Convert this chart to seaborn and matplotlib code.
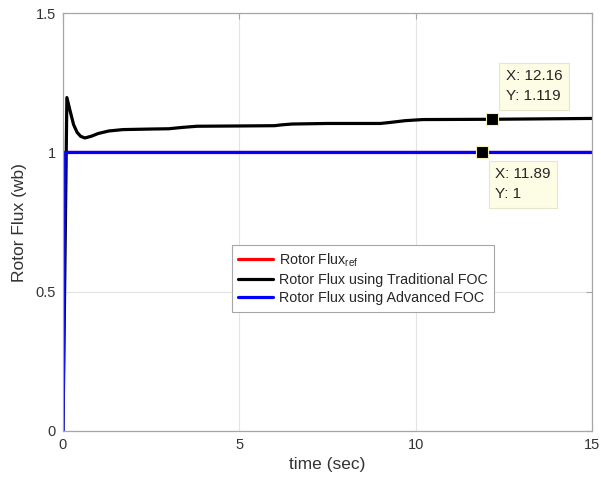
import matplotlib
matplotlib.use("Agg")
import matplotlib.pyplot as plt
import seaborn as sns
import pandas as pd

# Simulation traces (time in seconds, rotor flux in Wb)
t_ref = [0.0, 15.0]
flux_ref = [1.0, 1.0]

t_trad = [0.0, 0.11, 0.2, 0.3, 0.4, 0.5, 0.62, 0.8, 1.0, 1.3, 1.7, 2.5, 3.0,
          3.4, 3.8, 5.0, 6.0, 6.2, 6.5, 7.5, 9.0, 9.3, 9.7, 10.2, 12.16, 15.0]
flux_trad = [0.0, 1.197, 1.15, 1.10, 1.072, 1.058, 1.052, 1.058, 1.068, 1.077,
             1.082, 1.084, 1.085, 1.090, 1.094, 1.095, 1.096, 1.099, 1.102,
             1.104, 1.104, 1.108, 1.114, 1.118, 1.119, 1.122]

t_adv = [0.0, 0.06, 15.0]
flux_adv = [0.0, 1.0, 1.0]

# Data tips
tip_x = [12.16, 11.89]
tip_y = [1.119, 1.0]

x_ticks = [0, 5, 10, 15]
y_ticks = [0, 0.5, 1, 1.5]

sns.set_style("white")
plt.rcParams["font.family"] = ["Liberation Sans", "DejaVu Sans"]
plt.rcParams["mathtext.fontset"] = "custom"
plt.rcParams["mathtext.rm"] = "Liberation Sans"

fig = plt.figure(figsize=(6.01, 4.87), dpi=100)
ax = fig.add_axes([0.1048, 0.115, 0.8802, 0.858])

df_ref = pd.DataFrame({"t": t_ref, "flux": flux_ref})
df_trad = pd.DataFrame({"t": t_trad, "flux": flux_trad})
df_adv = pd.DataFrame({"t": t_adv, "flux": flux_adv})

lw = 2.3
sns.lineplot(data=df_ref, x="t", y="flux", ax=ax, color="#ff0000", lw=lw,
             estimator=None, sort=False, label=r"Rotor Flux$_\mathregular{ref}$")
sns.lineplot(data=df_trad, x="t", y="flux", ax=ax, color="#000000", lw=lw,
             estimator=None, sort=False, label="Rotor Flux using Traditional FOC")
sns.lineplot(data=df_adv, x="t", y="flux", ax=ax, color="#0000ff", lw=lw,
             estimator=None, sort=False, label="Rotor Flux using Advanced FOC")

ax.set_xlim(0, 15)
ax.set_ylim(0, 1.5)
ax.set_xticks(x_ticks)
ax.set_yticks(y_ticks)
ax.set_xticklabels([f"{v:g}" for v in x_ticks])
ax.set_yticklabels([f"{v:g}" for v in y_ticks])
ax.grid(True, color="#e3e3e3", lw=0.8)
ax.set_axisbelow(True)

for s in ax.spines.values():
    s.set_color("#a6a6a6")
    s.set_linewidth(0.9)
ax.tick_params(axis="both", direction="in", length=4, width=0.8,
               color="#a6a6a6", labelsize=10.5, labelcolor="#333333",
               top=True, right=True, pad=5)

ax.set_xlabel("time (sec)", fontsize=12.5, color="#333333", labelpad=4)
ax.set_ylabel("Rotor Flux (wb)", fontsize=12.5, color="#333333", labelpad=6)

# Data-tip markers and boxes
ax.plot(tip_x, tip_y, ls="none", marker="s", ms=8.5, mfc="black",
        mec="#f3f0c0", mew=0.8, zorder=6)
tip_box = dict(boxstyle="square,pad=0.42", fc="#fdfde6", ec="#e6e6cc", lw=0.8)
ax.annotate(f"X: {tip_x[0]:.2f}\nY: {tip_y[0]:.3f}", xy=(tip_x[0], tip_y[0]),
            xytext=(14, 16), textcoords="offset pixels", ha="left", va="bottom",
            fontsize=11, color="#262626", bbox=tip_box, zorder=7,
            linespacing=1.55)
ax.annotate(f"X: {tip_x[1]:.2f}\nY: {tip_y[1]:g}", xy=(tip_x[1], tip_y[1]),
            xytext=(13, -15), textcoords="offset pixels", ha="left", va="top",
            fontsize=11, color="#262626", bbox=tip_box, zorder=7,
            linespacing=1.55)

leg = ax.legend(loc="lower left", bbox_to_anchor=(0.3195, 0.285), fontsize=10.3,
                frameon=True, fancybox=False, edgecolor="#a6a6a6",
                handlelength=2.45, handletextpad=0.4, borderpad=0.45,
                labelspacing=0.3, borderaxespad=0, framealpha=1)
leg.get_frame().set_linewidth(0.8)
for txt in leg.get_texts():
    txt.set_color("#262626")

fig.savefig("out.png", dpi=100)
